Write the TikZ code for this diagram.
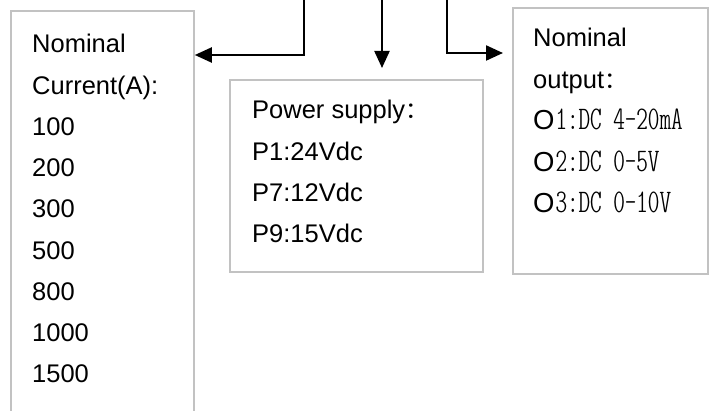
\documentclass[tikz,border=0pt]{standalone}
\usepackage{fontspec}
\setmainfont{Liberation Sans}
\newfontfamily\cjk{Noto Sans CJK SC}
\usetikzlibrary{positioning, arrows.meta}

\newcommand{\wcolon}{{\cjk\fontsize{23}{41}\selectfont ：}}

\begin{document}
\begin{tikzpicture}[
    x=1pt, y=-1pt,
    font=\fontsize{25.5}{41}\selectfont,
    panel/.style={rectangle, draw=black!24, line width=1.8pt, inner sep=0pt, anchor=north west},
    entry/.style={anchor=base west, inner sep=0pt},
    arrow/.style={-{Triangle[length=17pt, width=15pt]}, line width=2.2pt}
]
\useasboundingbox (0,0) rectangle (713,411);
\clip (0,0) rectangle (713,411);

% the three panels
\node[panel, minimum width=183pt, minimum height=440pt] (current) at (10,10) {};
\node[panel, minimum width=253pt, minimum height=192pt] (supply) at (229,79) {};
\node[panel, minimum width=195pt, minimum height=266pt] (output) at (512,7) {};

% panel texts
\foreach \txt [count=\i from 0] in {Nominal, Current(A):, 100, 200, 300, 500, 800, 1000, 1500}
  \node[entry] (cur-\i) at (32, 53+41.25*\i) {\txt};

\foreach \txt [count=\i from 0] in {{Power supply\wcolon}, P1:24Vdc, P7:12Vdc, P9:15Vdc}
  \node[entry] (sup-\i) at (252, 119+41.3*\i) {\txt};

\node[entry] (out-0) at (533,47) {Nominal};
\node[entry] (out-1) at (533,89) {output\wcolon};
\foreach \txt [count=\i from 2] in {{1:DC 4-20mA}, {2:DC 0-5V}, {3:DC 0-10V}}
  \node[entry] (out-\i) at (533, 130+41.5*\i-83) {{\fontsize{27.5}{41}\selectfont O}\kern1pt{\ttfamily\fontseries{lc}\fontsize{33}{41}\selectfont\txt}};

% feed lines from above
\coordinate (feed-l) at (304,-3);
\coordinate (feed-m) at (382,-3);
\coordinate (feed-r) at (447,-3);
\coordinate (bend-l) at (304,55);
\coordinate (bend-r) at (447,53);

\draw[arrow] (feed-l) -- (bend-l) -- (bend-l -| current.east);
\draw[arrow, shorten >=11pt] (feed-m) -- (feed-m |- supply.north);
\draw[arrow, shorten >=9pt] (feed-r) -- (bend-r) -- (bend-r -| output.west);
\end{tikzpicture}
\end{document}
